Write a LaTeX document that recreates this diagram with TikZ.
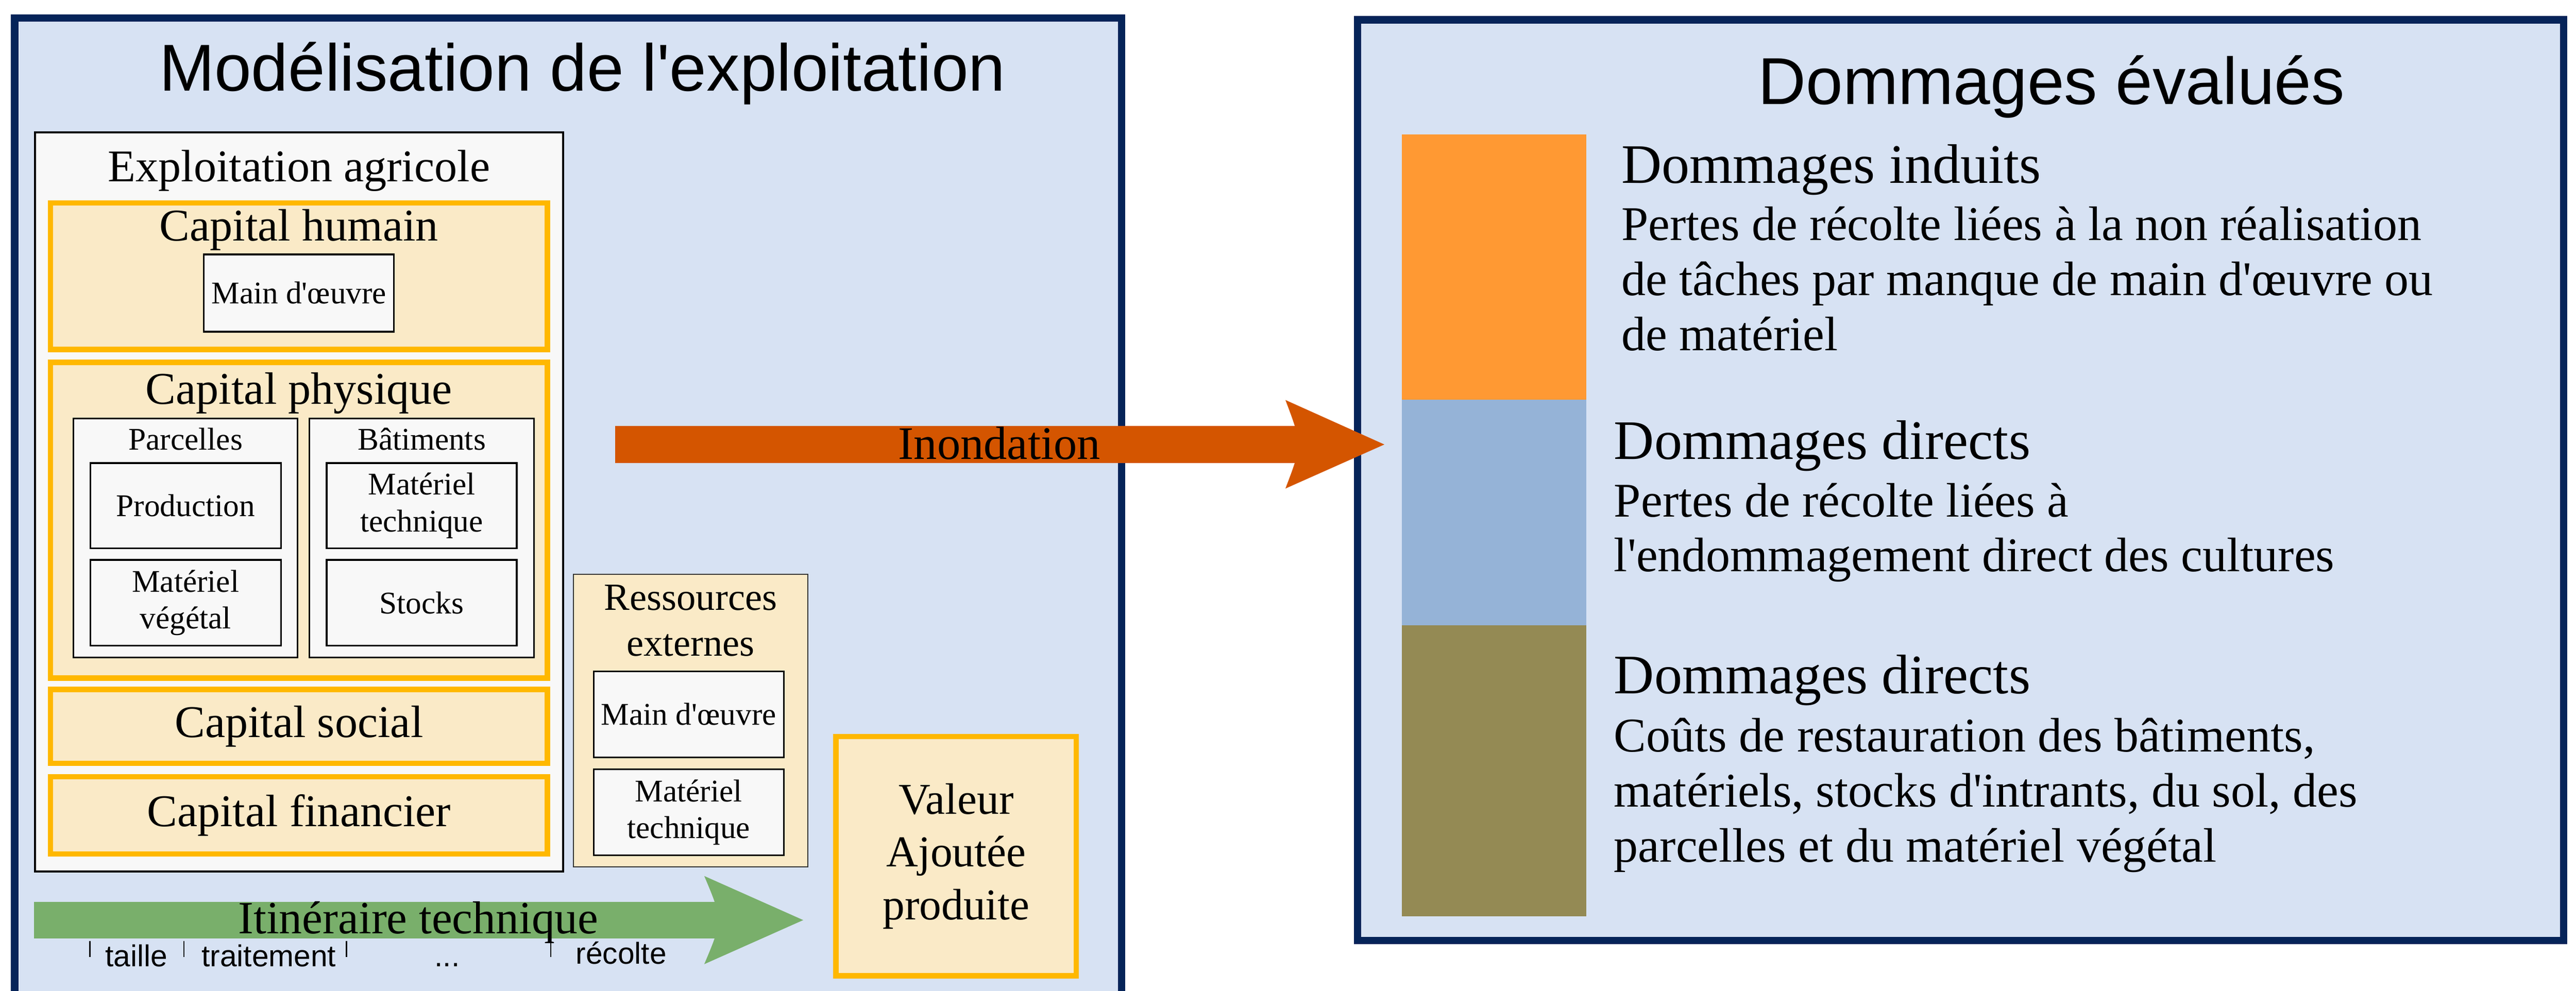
\documentclass[tikz,border=0pt]{standalone}
\usepackage{fontspec}
\setmainfont{Liberation Serif}
\setsansfont{Liberation Sans}

\definecolor{navy}{HTML}{062459}
\definecolor{paleblue}{HTML}{D7E2F3}
\definecolor{gold}{HTML}{FFB800}
\definecolor{beige}{HTML}{FAEAC7}
\definecolor{offwhite}{HTML}{F8F8F8}
\definecolor{leaf}{HTML}{79AF6B}
\definecolor{flood}{HTML}{D45500}
\definecolor{induced}{HTML}{FF9933}
\definecolor{direct}{HTML}{95B3D7}
\definecolor{mudbar}{HTML}{948A54}

\newcommand{\aps}{\textquotesingle}

\tikzset{
  frame/.style={draw=navy, line width=4.8pt, fill=paleblue},
  capbox/.style={draw=gold, line width=3.6pt, fill=beige},
  itembox/.style={draw=black, line width=1.1pt, fill=offwhite},
  extbox/.style={draw=black!80, line width=0.7pt, fill=beige},
  tickmark/.style={draw=black, line width=0.8pt},
  titletxt/.style={font=\sffamily\fontsize{43.7}{50}\selectfont, inner sep=0pt},
  bigtxt/.style={font=\fontsize{29.9}{36}\selectfont, inner sep=0pt},
  midtxt/.style={font=\fontsize{25.3}{30.2}\selectfont, inner sep=0pt, align=center},
  smalltxt/.style={font=\fontsize{20.8}{24.2}\selectfont, inner sep=0pt, align=center},
  valtxt/.style={font=\fontsize{29}{34.7}\selectfont, inner sep=0pt, align=center},
  ticktxt/.style={font=\sffamily\fontsize{19.9}{24}\selectfont, inner sep=0pt},
  dhead/.style={font=\fontsize{36.7}{44}\selectfont, inner sep=0pt, anchor=base west},
  dbody/.style={font=\fontsize{31.9}{36.4}\selectfont, inner sep=0pt, anchor=base west}
}

\begin{document}
\begin{tikzpicture}
\useasboundingbox (0,0) rectangle (59.62,-22.93);
\fill[white] (0,0) rectangle (59.62,-22.93);

% Left frame: the farm model
\draw[frame] (0.34,-0.42) rectangle (25.96,-23.5);
\node (modelTitle) [titletxt, anchor=base] at (13.48,-2.10) {Modélisation de l\aps exploitation};

% Exploitation agricole
\draw[itembox, line width=1.3pt] (0.81,-3.06) rectangle (13.03,-20.18);
\node (farm) [bigtxt, anchor=base] at (6.92,-4.20) {Exploitation agricole};

% Capital humain
\draw[capbox] (1.17,-4.70) rectangle (12.67,-8.09);
\node (human) [bigtxt, anchor=base] at (6.92,-5.58) {Capital humain};
\draw[itembox] (4.72,-5.89) rectangle (9.12,-7.68);
\node (labour) [smalltxt] at (6.92,-6.785) {Main d\aps œuvre};

% Capital physique
\draw[capbox] (1.17,-8.39) rectangle (12.67,-15.70);
\node (physical) [bigtxt, anchor=base] at (6.92,-9.36) {Capital physique};
\draw[itembox] (1.70,-9.69) rectangle (6.89,-15.22);
\node (plots) [smalltxt, anchor=base] at (4.295,-10.41) {Parcelles};
\draw[itembox] (7.16,-9.69) rectangle (12.36,-15.22);
\node (buildings) [smalltxt, anchor=base] at (9.76,-10.41) {Bâtiments};
\draw[itembox] (2.09,-10.72) rectangle (6.50,-12.69);
\node (production) [smalltxt] at (4.295,-11.705) {Production};
\draw[itembox] (2.09,-12.96) rectangle (6.50,-14.95);
\node (plantMat) [smalltxt] at (4.295,-13.955) {Matériel\\végétal};
\draw[itembox] (7.56,-10.72) rectangle (11.96,-12.69);
\node (techMat) [smalltxt] at (9.76,-11.705) {Matériel\\technique};
\draw[itembox] (7.56,-12.96) rectangle (11.96,-14.95);
\node (stocks) [smalltxt] at (9.76,-13.955) {Stocks};

% Capital social and financier
\draw[capbox] (1.17,-15.96) rectangle (12.67,-17.67);
\node (social) [bigtxt] at (6.92,-16.815) {Capital social};
\draw[capbox] (1.17,-17.98) rectangle (12.67,-19.77);
\node (financial) [bigtxt] at (6.92,-18.875) {Capital financier};

% Ressources externes
\draw[extbox] (13.27,-13.29) rectangle (18.70,-20.07);
\node (external) [midtxt] at (15.985,-14.365) {Ressources\\externes};
\draw[itembox] (13.74,-15.54) rectangle (18.14,-17.53);
\node (extLabour) [smalltxt] at (15.94,-16.535) {Main d\aps œuvre};
\draw[itembox] (13.74,-17.81) rectangle (18.14,-19.80);
\node (extTech) [smalltxt] at (15.94,-18.805) {Matériel\\technique};

% Valeur ajoutee
\draw[capbox] (19.35,-17.05) rectangle (24.91,-22.59);
\node (value) [valtxt] at (22.13,-19.82) {Valeur\\Ajoutée\\produite};

% Itineraire technique arrow
\fill[leaf] (0.79,-20.88) rectangle (16.8,-21.73);
\fill[leaf] (16.30,-20.28) -- (18.59,-21.30) -- (16.30,-22.32) .. controls (16.73,-21.30) .. (16.30,-20.28) -- cycle;
\node (route) [bigtxt, font=\fontsize{30.4}{36}\selectfont, anchor=base] at (9.68,-21.61) {Itinéraire technique};
\foreach \x in {2.08,4.26,8.02,12.75}
  \draw[tickmark] (\x,-21.78) -- ++(0,-0.38);
\node (pruning) [ticktxt, anchor=base west] at (2.43,-22.38) {taille};
\node (spraying) [ticktxt, anchor=base west] at (4.66,-22.38) {traitement};
\node (etc) [ticktxt, anchor=base] at (10.35,-22.38) {...};
\node (harvest) [ticktxt, anchor=base west] at (13.32,-22.32) {récolte};

% Right frame: assessed damages
\draw[frame] (31.42,-0.46) rectangle (59.33,-21.77);
\node (damageTitle) [titletxt, anchor=base] at (47.48,-2.41) {Dommages évalués};

\fill[induced] (32.44,-3.11) rectangle (36.71,-9.25);
\fill[direct] (32.44,-9.25) rectangle (36.71,-14.47);
\fill[mudbar] (32.44,-14.47) rectangle (36.71,-21.21);

\node (indHead) [dhead] at (37.52,-4.24) {Dommages induits};
\node (indA) [dbody] at (37.52,-5.56) {Pertes de récolte liées à la non réalisation};
\node (indB) [dbody] at (37.52,-6.84) {de tâches par manque de main d\aps œuvre ou};
\node (indC) [dbody] at (37.52,-8.11) {de matériel};

\node (cropHead) [dhead] at (37.35,-10.63) {Dommages directs};
\node (cropA) [dbody] at (37.35,-11.96) {Pertes de récolte liées à};
\node (cropB) [dbody] at (37.35,-13.23) {l\aps endommagement direct des cultures};

\node (assetHead) [dhead] at (37.35,-16.05) {Dommages directs};
\node (assetA) [dbody] at (37.35,-17.40) {Coûts de restauration des bâtiments,};
\node (assetB) [dbody] at (37.35,-18.68) {matériels, stocks d\aps intrants, du sol, des};
\node (assetC) [dbody] at (37.35,-19.96) {parcelles et du matériel végétal};

% Inondation arrow
\fill[flood] (14.24,-9.86) rectangle (30.1,-10.72);
\fill[flood] (29.75,-9.26) -- (32.04,-10.29) -- (29.75,-11.31) .. controls (30.14,-10.29) .. (29.75,-9.26) -- cycle;
\node (flooding) [bigtxt, font=\fontsize{30.7}{36}\selectfont, anchor=base] at (23.13,-10.63) {Inondation};
\end{tikzpicture}
\end{document}
